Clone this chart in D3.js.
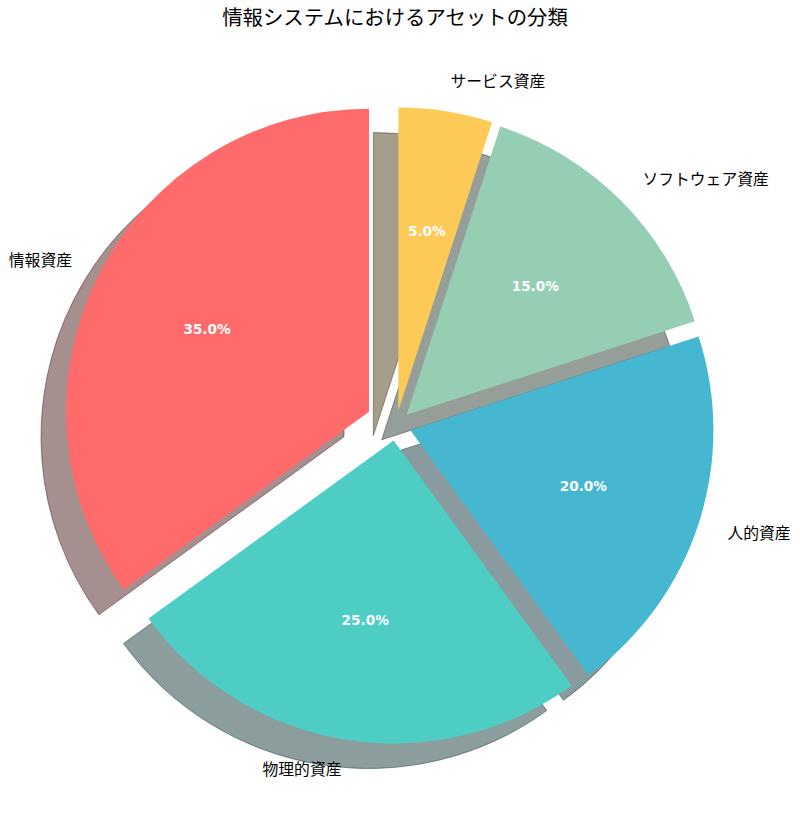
<!DOCTYPE html>
<html>
<head>
<meta charset="utf-8">
<script src="https://cdn.jsdelivr.net/npm/d3@7"></script>
<style>
  body { margin: 0; background: #fff; }
</style>
</head>
<body>
<div id="canvas"></div>
<script>
const categories = ["情報資産", "物理的資産", "人的資産", "ソフトウェア資産", "サービス資産"];
const values = [35, 25, 20, 15, 5];

const colors = ["#ff6b6b", "#4ecdc4", "#45b7d1", "#96ceb4", "#feca57"];
const explode = [0.1, 0.05, 0.05, 0.05, 0.05];

const width = 800;
const height = 813;
const cx = 396, cy = 425.5, radius = 303;
const shadowDx = -25, shadowDy = 25;

const svg = d3.select("#canvas").append("svg")
  .attr("width", width)
  .attr("height", height);

// data units -> pixels (pie radius = 1)
const x = d3.scaleLinear().domain([-1, 1]).range([cx - radius, cx + radius]);
const y = d3.scaleLinear().domain([-1, 1]).range([cy + radius, cy - radius]);

const total = d3.sum(values);
const data = categories.map((c, i) => ({ name: c, value: values[i], color: colors[i], explode: explode[i] }));

// start at 12 o'clock, go counterclockwise like matplotlib
const pie = d3.pie().value(d => d.value).sort(null).startAngle(0).endAngle(-2 * Math.PI);
const arcs = pie(data);

const arc = d3.arc().innerRadius(0).outerRadius(radius);

// unit-direction of the middle of a slice, in data coords (y up)
function dir(a) {
  const m = (a.startAngle + a.endAngle) / 2;
  return [Math.sin(m), Math.cos(m)];
}
function centre(a) {
  const [ux, uy] = dir(a);
  return [ux * a.data.explode, uy * a.data.explode];
}

function shade(c) {
  const k = d3.rgb(c);
  return d3.rgb(k.r * 0.3, k.g * 0.3, k.b * 0.3).formatHex();
}

const shadows = svg.append("g");
shadows.selectAll("path").data(arcs).enter().append("path")
  .attr("d", arc)
  .attr("transform", d => {
    const [ox, oy] = centre(d);
    return `translate(${x(ox) + shadowDx},${y(oy) + shadowDy})`;
  })
  .attr("fill", d => shade(d.data.color))
  .attr("fill-opacity", 0.5)
  .attr("stroke", d => shade(d.data.color))
  .attr("stroke-opacity", 0.5)
  .attr("stroke-width", 1);

const wedges = svg.append("g");
wedges.selectAll("path").data(arcs).enter().append("path")
  .attr("d", arc)
  .attr("transform", d => {
    const [ox, oy] = centre(d);
    return `translate(${x(ox)},${y(oy)})`;
  })
  .attr("fill", d => d.data.color);

// category labels at 1.1 r
svg.append("g").selectAll("text").data(arcs).enter().append("text")
  .attr("x", d => { const [ox] = centre(d); return x(ox + 1.1 * dir(d)[0]); })
  .attr("y", d => { const [, oy] = centre(d); return y(oy + 1.1 * dir(d)[1]); })
  .attr("text-anchor", d => dir(d)[0] > 0 ? "start" : "end")
  .attr("dominant-baseline", "central")
  .style("font-family", "'DejaVu Sans', 'Noto Sans CJK JP', sans-serif")
  .style("font-size", "15.8px")
  .style("fill", "#000")
  .text(d => d.data.name);

// percentages at 0.6 r
svg.append("g").selectAll("text").data(arcs).enter().append("text")
  .attr("x", d => { const [ox] = centre(d); return x(ox + 0.6 * dir(d)[0]); })
  .attr("y", d => { const [, oy] = centre(d); return y(oy + 0.6 * dir(d)[1]); })
  .attr("text-anchor", "middle")
  .attr("dominant-baseline", "central")
  .style("font-family", "'DejaVu Sans', sans-serif")
  .style("font-weight", "bold")
  .style("font-size", "13.6px")
  .style("fill", "#fff")
  .text(d => (d.data.value / total * 100).toFixed(1) + "%");

svg.append("text")
  .attr("x", 395)
  .attr("y", 17.5)
  .attr("text-anchor", "middle")
  .attr("dominant-baseline", "central")
  .style("font-family", "'DejaVu Sans', 'Noto Sans CJK JP', sans-serif")
  .style("font-size", "20.4px")
  .style("fill", "#000")
  .text("情報システムにおけるアセットの分類");
</script>
</body>
</html>
